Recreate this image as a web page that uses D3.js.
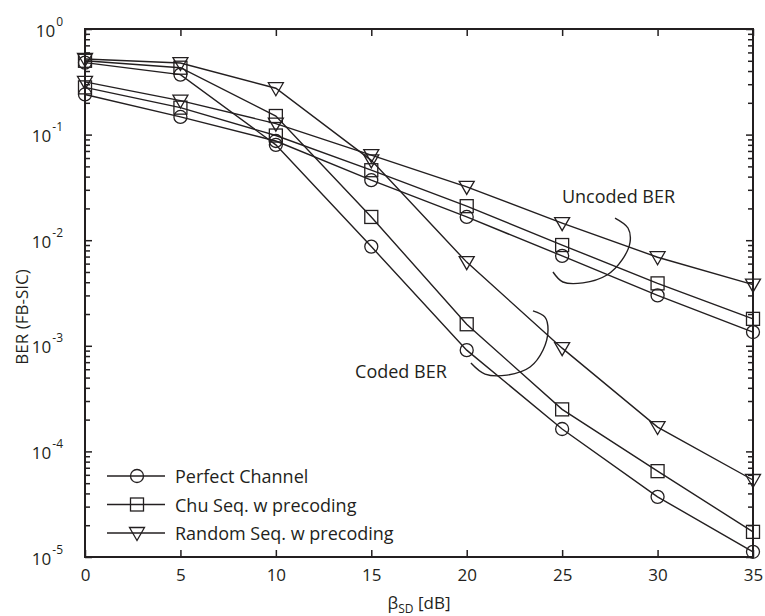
<!DOCTYPE html>
<html>
<head>
<meta charset="utf-8">
<script src="https://cdn.jsdelivr.net/npm/d3@7"></script>
<style>
  body { margin: 0; background: #fff; }
  svg { font-family: "Open Sans", sans-serif; }
  .axis path, .axis line { stroke: #231f20; }
  .axis text { fill: #231f20; }
</style>
</head>
<body>
<div id="chart"></div>
<script>
// x values (beta_SD in dB)
var snr = [0, 5, 10, 15, 20, 25, 30, 35];

// uncoded BER
var uncodedPerfect = [0.24, 0.147, 0.087, 0.037, 0.0166, 0.0071, 0.0030, 0.00135];
var uncodedChu     = [0.28, 0.18, 0.098, 0.046, 0.021, 0.0090, 0.0039, 0.0018];
var uncodedRandom  = [0.316, 0.21, 0.127, 0.064, 0.032, 0.0145, 0.0069, 0.0038];

// coded BER
var codedPerfect = [0.48, 0.37, 0.08, 0.0087, 0.00091, 0.000163, 0.0000371, 0.0000112];
var codedChu     = [0.50, 0.43, 0.15, 0.0166, 0.0016, 0.00025, 0.000065, 0.0000173];
var codedRandom  = [0.52, 0.476, 0.275, 0.057, 0.0062, 0.00095, 0.00017, 0.0000536];

var legendNames = ["Perfect Channel", "Chu Seq. w precoding", "Random Seq. w precoding"];
var xTicks = [0, 5, 10, 15, 20, 25, 30, 35];
var yTicks = [1e-5, 1e-4, 1e-3, 1e-2, 1e-1, 1e0];

// annotation brackets, in data units [dB, BER]
var uncodedBracket = [[27.77, 0.0162], [28.45, 0.01305], [28.56, 0.00962], [28.14, 0.0065],
    [27.35, 0.00468], [26.09, 0.00394], [25.04, 0.00402], [24.52, 0.0050]];
var codedBracket = [[23.47, 0.00214], [24.10, 0.00187], [24.26, 0.00141], [24.00, 0.000912],
    [23.32, 0.00063], [22.11, 0.000528], [20.96, 0.00054], [20.22, 0.000687]];

var ink = "#231f20";

var svgWidth = 765;
var svgHeight = 616;
var margin = { top: 29, right: 12, bottom: 59, left: 85 };
var chart_width = svgWidth - margin.left - margin.right;
var chart_height = svgHeight - margin.top - margin.bottom;

var svg = d3.select("#chart")
    .append("svg")
    .attr("width", svgWidth)
    .attr("height", svgHeight);

var chart = svg.append("g")
    .attr("transform", `translate(${margin.left}, ${margin.top})`);

var xScale = d3.scaleLinear().domain([0, 35]).range([0, chart_width]);
var yScale = d3.scaleLog().domain([1e-5, 1]).range([chart_height, 0]);

// minor tick values for log axis
var minorTicks = [];
yTicks.slice(0, -1).forEach(function(t) {
    for (var k = 2; k <= 9; k++) minorTicks.push(t * k);
});

// y minor ticks (left and right, inward)
chart.append("g").attr("class", "axis")
    .call(d3.axisLeft(yScale).tickValues(minorTicks).tickSize(-5).tickFormat(""))
    .call(g => g.select(".domain").remove());
chart.append("g").attr("class", "axis")
    .attr("transform", `translate(${chart_width}, 0)`)
    .call(d3.axisRight(yScale).tickValues(minorTicks).tickSize(-5).tickFormat(""))
    .call(g => g.select(".domain").remove());

// y major ticks with labels
var yAxis = chart.append("g").attr("class", "axis")
    .call(d3.axisLeft(yScale).tickValues(yTicks).tickSize(-7).tickPadding(22)
        .tickFormat(d => "10"));
yAxis.select(".domain").remove();
yAxis.selectAll(".tick text")
    .attr("font-size", 17)
    .attr("font-family", "Open Sans")
    .attr("dy", "0.42em")
    .each(function(d) {
        d3.select(this).append("tspan")
            .attr("font-size", 12)
            .attr("dx", 1)
            .attr("dy", -11)
            .text(Math.round(Math.log10(d)));
    });
chart.append("g").attr("class", "axis")
    .attr("transform", `translate(${chart_width}, 0)`)
    .call(d3.axisRight(yScale).tickValues(yTicks).tickSize(-7).tickFormat(""))
    .call(g => g.select(".domain").remove());

// x ticks
var xAxis = chart.append("g").attr("class", "axis")
    .attr("transform", `translate(0, ${chart_height})`)
    .call(d3.axisBottom(xScale).tickValues(xTicks).tickSize(-7).tickPadding(12));
xAxis.select(".domain").remove();
xAxis.selectAll(".tick text").attr("font-size", 17).attr("font-family", "Open Sans");
chart.append("g").attr("class", "axis")
    .call(d3.axisTop(xScale).tickValues(xTicks).tickSize(-7).tickFormat(""))
    .call(g => g.select(".domain").remove());

chart.selectAll(".axis line").attr("stroke-width", 1.5);

// box
chart.append("rect")
    .attr("width", chart_width)
    .attr("height", chart_height)
    .attr("fill", "none")
    .attr("stroke", ink)
    .attr("stroke-width", 2);

// markers
function drawMarker(g, shape, cx, cy) {
    if (shape === "circle") {
        g.append("circle").attr("cx", cx).attr("cy", cy).attr("r", 6.5);
    } else if (shape === "square") {
        g.append("rect").attr("x", cx - 6.5).attr("y", cy - 6.5).attr("width", 13).attr("height", 13);
    } else {
        g.append("path").attr("d", `M${cx - 7.5},${cy - 5.5} L${cx + 7.5},${cy - 5.5} L${cx},${cy + 7.5} Z`);
    }
}

var series = [
    { values: uncodedPerfect, shape: "circle" },
    { values: uncodedChu, shape: "square" },
    { values: uncodedRandom, shape: "triangle" },
    { values: codedPerfect, shape: "circle" },
    { values: codedChu, shape: "square" },
    { values: codedRandom, shape: "triangle" }
];

var line = d3.line()
    .x(d => xScale(d[0]))
    .y(d => yScale(d[1]));

series.forEach(function(s) {
    var pts = snr.map((x, i) => [x, s.values[i]]);
    chart.append("path")
        .datum(pts)
        .attr("d", line)
        .attr("fill", "none")
        .attr("stroke", ink)
        .attr("stroke-width", 1.4);
    var mg = chart.append("g")
        .attr("fill", "none")
        .attr("stroke", ink)
        .attr("stroke-width", 1.3);
    pts.forEach(function(p) {
        drawMarker(mg, s.shape, xScale(p[0]), yScale(p[1]));
    });
});

// brackets and annotation text
var curve = d3.line()
    .x(d => xScale(d[0]))
    .y(d => yScale(d[1]))
    .curve(d3.curveCatmullRom);

[uncodedBracket, codedBracket].forEach(function(b) {
    chart.append("path")
        .datum(b)
        .attr("d", curve)
        .attr("fill", "none")
        .attr("stroke", ink)
        .attr("stroke-width", 1.4);
});

chart.append("text")
    .attr("x", xScale(24.99))
    .attr("y", yScale(0.0225))
    .attr("font-size", 18)
    .attr("fill", ink)
    .text("Uncoded BER");

chart.append("text")
    .attr("x", xScale(14.15))
    .attr("y", yScale(0.000495))
    .attr("font-size", 18)
    .attr("fill", ink)
    .text("Coded BER");

// legend
var legend = chart.append("g")
    .attr("transform", `translate(22, ${chart_height - 81})`);
var shapes = ["circle", "square", "triangle"];
legendNames.forEach(function(name, i) {
    var yy = i * 28.5;
    legend.append("line")
        .attr("x1", 0).attr("x2", 58)
        .attr("y1", yy).attr("y2", yy)
        .attr("stroke", ink)
        .attr("stroke-width", 1.4);
    var mg = legend.append("g")
        .attr("fill", "none")
        .attr("stroke", ink)
        .attr("stroke-width", 1.3);
    drawMarker(mg, shapes[i], 30, yy);
    legend.append("text")
        .attr("x", 68)
        .attr("y", yy + 7)
        .attr("font-size", 18)
        .attr("fill", ink)
        .text(name);
});

// axis labels
var xLabel = svg.append("text")
    .attr("x", margin.left + chart_width / 2)
    .attr("y", 609)
    .attr("text-anchor", "middle")
    .attr("font-size", 17)
    .attr("fill", ink);
xLabel.append("tspan").text("β");
xLabel.append("tspan").attr("font-size", 12).attr("dy", 4).text("SD");
xLabel.append("tspan").attr("dy", -4).text(" [dB]");

svg.append("text")
    .attr("transform", "translate(28, 317) rotate(-90)")
    .attr("text-anchor", "middle")
    .attr("font-size", 17)
    .attr("fill", ink)
    .text("BER (FB-SIC)");
</script>
</body>
</html>
